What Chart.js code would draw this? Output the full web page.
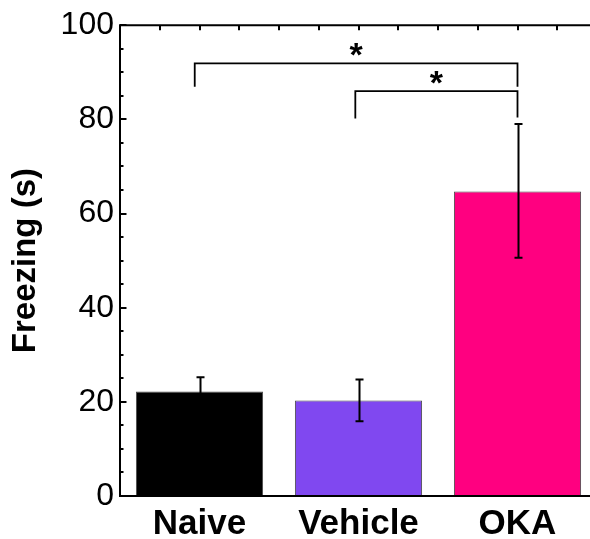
<!DOCTYPE html>
<html>
<head>
<meta charset="utf-8">
<script src="https://cdn.jsdelivr.net/npm/chart.js@4/dist/chart.umd.min.js"></script>
<style>
  html, body { margin:0; padding:0; background:#fff; overflow:hidden; }
  #wrap { width:600px; height:539px; position:relative; }
</style>
</head>
<body>
<div id="wrap"><canvas id="chart"></canvas></div>
<script>
// data
const categories = ['Naive', 'Vehicle', 'OKA'];
const freezing = [22.2, 20.3, 64.7];
const errUp = [3.0, 4.45, 14.3];
const errDown = [3.0, 4.4, 14.1];
const barColors = ['#000000', '#8048F0', '#FF0080'];
const yTickValues = [0, 20, 40, 60, 80, 100];

// significance brackets, x in category index units
const bracketFrom = [-0.03, 0.98];
const bracketTo = [2.0, 2.0];
const bracketTop = [91.9, 86.0];
const bracketLeftEnd = [86.9, 80.2];
const bracketRightEnd = [86.9, 80.4];
const bracketText = ['*', '*'];

const FONT = "'Liberation Sans', Arial, sans-serif";

const extras = {
  id: 'extras',
  afterDatasetsDraw(chart) {
    const ctx = chart.ctx;
    const x = chart.scales.x, y = chart.scales.y;
    const area = chart.chartArea;
    const px = v => x.getPixelForValue(v);
    ctx.save();
    ctx.strokeStyle = '#000';
    ctx.lineCap = 'butt';

    // error bars
    ctx.lineWidth = 2;
    freezing.forEach((v, i) => {
      const cx = Math.round(px(i)) + 0.5;
      const top = y.getPixelForValue(v + errUp[i]);
      const bot = y.getPixelForValue(v - errDown[i]);
      ctx.beginPath();
      ctx.moveTo(cx, top); ctx.lineTo(cx, bot);
      ctx.moveTo(cx - 4, top); ctx.lineTo(cx + 4, top);
      ctx.moveTo(cx - 4, bot); ctx.lineTo(cx + 4, bot);
      ctx.stroke();
    });

    // axes frame
    ctx.lineWidth = 2;
    ctx.beginPath();
    ctx.moveTo(area.left, area.bottom); ctx.lineTo(area.left, area.top);
    ctx.lineTo(area.right, area.top);
    ctx.moveTo(area.left - 1, area.bottom); ctx.lineTo(area.right, area.bottom);
    ctx.stroke();

    // left inward ticks
    for (let v = 0; v <= 100; v += 5) {
      const yy = Math.round(y.getPixelForValue(v));
      const len = v % 20 === 0 ? 6.5 : 3.5;
      ctx.beginPath();
      ctx.moveTo(area.left, yy); ctx.lineTo(area.left + len, yy);
      ctx.stroke();
    }
    // top inward ticks
    for (let v = -0.5; px(v) <= area.right; v += 0.25) {
      const xx = Math.round(px(v));
      ctx.beginPath();
      ctx.moveTo(xx, area.top); ctx.lineTo(xx, area.top + 5);
      ctx.stroke();
    }

    // brackets
    ctx.lineWidth = 1.8;
    ctx.fillStyle = '#000';
    ctx.font = 'bold 34px ' + FONT;
    ctx.textAlign = 'center';
    ctx.textBaseline = 'alphabetic';
    bracketTop.forEach((t, i) => {
      const x1 = px(bracketFrom[i]), x2 = px(bracketTo[i]);
      const yt = y.getPixelForValue(t);
      ctx.beginPath();
      ctx.moveTo(x1, y.getPixelForValue(bracketLeftEnd[i]));
      ctx.lineTo(x1, yt);
      ctx.lineTo(x2, yt);
      ctx.lineTo(x2, y.getPixelForValue(bracketRightEnd[i]));
      ctx.stroke();
      ctx.fillText(bracketText[i], (x1 + x2) / 2, yt + 3);
    });
    ctx.restore();
  }
};

new Chart(document.getElementById('chart'), {
  type: 'bar',
  data: {
    labels: categories,
    datasets: [{
      data: freezing,
      backgroundColor: barColors,
      borderColor: '#4a4a4a',
      borderWidth: 1,
      barPercentage: 0.8,
      categoryPercentage: 1.0
    }]
  },
  options: {
    responsive: true,
    maintainAspectRatio: false,
    animation: false,
    layout: { padding: { top: 23, right: 3, left: 0, bottom: 0 } },
    plugins: { legend: { display: false }, tooltip: { enabled: false } },
    scales: {
      x: {
        grid: { display: false, drawTicks: false },
        border: { display: false },
        ticks: { color: '#000', padding: 7, font: { family: FONT, size: 35, weight: 'bold' } },
        afterFit(s) { s.height = 43; }
      },
      y: {
        min: 0, max: 100,
        afterBuildTicks(s) { s.ticks = yTickValues.map(v => ({ value: v })); },
        grid: { display: false, drawTicks: false },
        border: { display: false },
        ticks: { color: '#000', padding: 6, font: { family: FONT, size: 32 } },
        title: {
          display: true, text: 'Freezing (s)', color: '#000',
          padding: { top: 6, bottom: 0 },
          font: { family: FONT, size: 33, weight: 'bold' }
        },
        afterFit(s) { s.width = 120; }
      }
    }
  },
  plugins: [extras]
});
</script>
</body>
</html>
